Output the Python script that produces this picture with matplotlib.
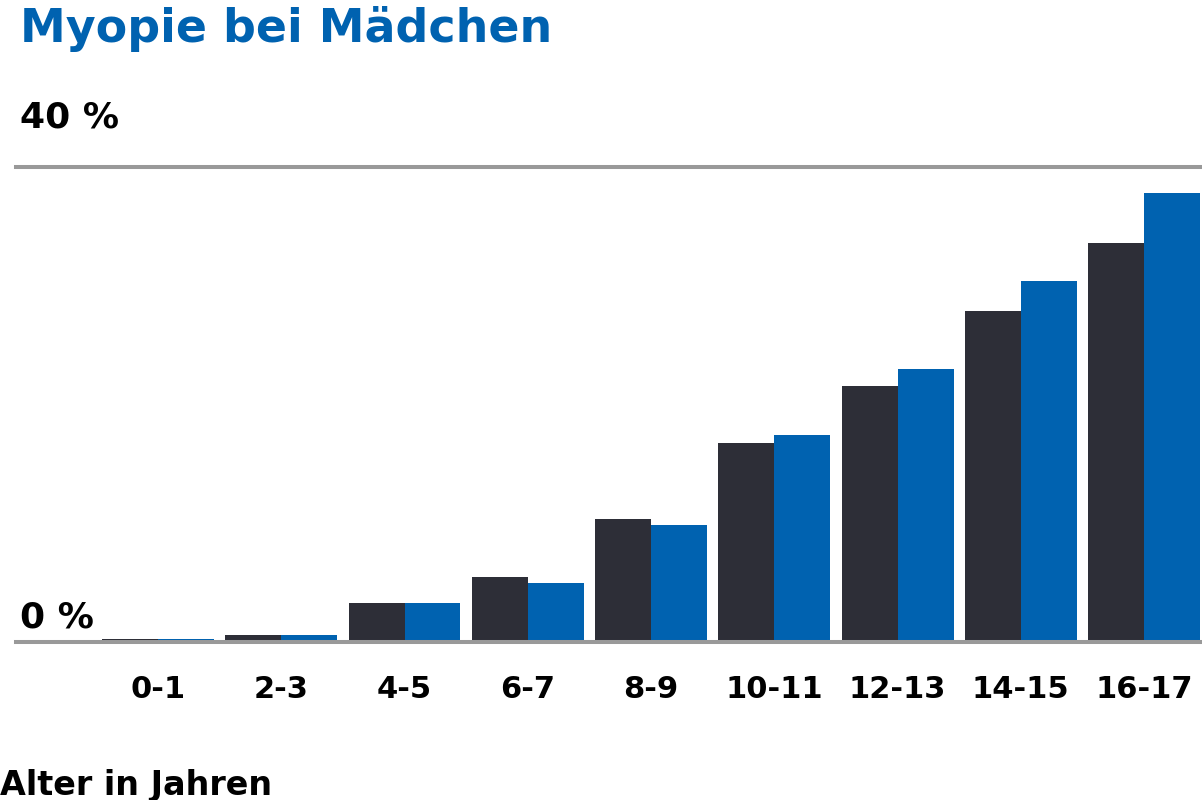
import numpy as np
import matplotlib
matplotlib.use("Agg")
import matplotlib.pyplot as plt

plt.rcParams['font.family'] = ['DejaVu Sans']

# age groups and myopia share (%)
age_groups = ["0-1", "2-3", "4-5", "6-7", "8-9", "10-11", "12-13", "14-15", "16-17"]
dark_values = [0.25, 0.6, 3.3, 5.5, 10.4, 16.8, 21.6, 27.9, 33.6]
blue_values = [0.25, 0.6, 3.3, 5.0, 9.85, 17.4, 23.0, 30.4, 37.8]

DARK = "#2d2e37"
BLUE = "#0062b0"
GRID = "#999999"

W, H = 1202, 800
fig = plt.figure(figsize=(W / 100, H / 100), dpi=100)

# axes box in pixels: x 16..1202, y 167..642
ax = fig.add_axes((16 / W, 1 - 642 / H, (W - 16) / W, (642 - 167) / H))
ax.set_xlim(-1.152, 8.47)
ax.set_ylim(0, 40)
ax.axis('off')

x = np.arange(len(age_groups))
bw = 0.454
ax.bar(x - bw / 2, dark_values, width=bw, color=DARK, zorder=2)
ax.bar(x + bw / 2, blue_values, width=bw, color=BLUE, zorder=2)

for yv in (0, 40):
    ax.axhline(yv, color=GRID, lw=2.9, zorder=3 if yv == 0 else 1, clip_on=False)

for xi, lab in zip(x, age_groups):
    ax.text(xi, -3.96, lab, ha='center', va='center', fontsize=22,
            fontweight='bold', color='black', clip_on=False)

fig.text(20 / W, 1 - 118 / H, "40 %", fontsize=26, fontweight='bold',
         ha='left', va='center', color='black')
fig.text(20 / W, 1 - 618 / H, "0 %", fontsize=26, fontweight='bold',
         ha='left', va='center', color='black')
fig.text(20 / W, 1 - 42 / H, "Myopie bei Mädchen", fontsize=33,
         fontweight='bold', ha='left', va='baseline', color=BLUE)
fig.text(0, 1 - 795 / H, "Alter in Jahren", fontsize=24, fontweight='bold',
         ha='left', va='baseline', color='black')

fig.savefig("out.png", dpi=100, facecolor='white')
